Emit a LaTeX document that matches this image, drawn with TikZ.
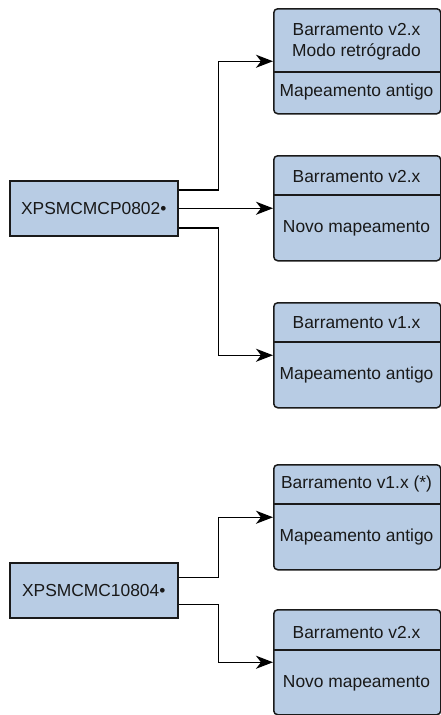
\documentclass[tikz,border=0pt]{standalone}
\usepackage{fontspec}
\setmainfont{Liberation Sans}
\usetikzlibrary{arrows.meta}
\definecolor{boxblue}{HTML}{B8CCE4}
\definecolor{edge}{HTML}{1A1A1A}
\begin{document}
\begin{tikzpicture}[x=1pt,y=-1pt,
  rbox/.style={draw=edge, fill=boxblue, line width=1.5pt, rounded corners=4pt,
    minimum width=167pt, minimum height=105pt, inner sep=0pt, anchor=north west},
  lbox/.style={draw=edge, fill=boxblue, line width=1.5pt,
    minimum width=168pt, minimum height=55pt, inner sep=0pt, anchor=north west},
  div/.style={draw=edge, line width=1.5pt},
  txt/.style={font=\fontsize{17.4}{21}\selectfont, text=black!90, align=center, inner sep=0pt},
  arr/.style={draw=black, line width=1.5pt, -{Stealth[length=17pt,width=13pt,inset=5pt]}}
]
\useasboundingbox (0,0) rectangle (441,715);

% right boxes
\node[rbox] (A) at (273,8) {};
\node[rbox] (B) at (273,155) {};
\node[rbox] (C) at (273,302) {};
\node[rbox] (D) at (273,464) {};
\node[rbox] (E) at (273,609) {};

% dividers
\coordinate (dA) at (273,72);
\coordinate (dB) at (273,195);
\coordinate (dC) at (273,342);
\coordinate (dD) at (273,504);
\coordinate (dE) at (273,650);
\draw[div] (dA) -- (dA -| A.east);
\draw[div] (dB) -- (dB -| B.east);
\draw[div] (dC) -- (dC -| C.east);
\draw[div] (dD) -- (dD -| D.east);
\draw[div] (dE) -- (dE -| E.east);

% texts
\node[txt] (At) at (356.5,41.5) {Barramento v2.x\\Modo retrógrado};
\node[txt] (Ab) at (356.5,92) {Mapeamento antigo};
\node[txt] (Bt) at (356.5,176.5) {Barramento v2.x};
\node[txt] (Bb) at (356.5,228) {Novo mapeamento};
\node[txt] (Ct) at (356.5,322.5) {Barramento v1.x};
\node[txt] (Cb) at (356.5,375) {Mapeamento antigo};
\node[txt] (Dt) at (356.5,484) {Barramento v1.x (*)};
\node[txt] (Db) at (356.5,537) {Mapeamento antigo};
\node[txt] (Et) at (356.5,632.5) {Barramento v2.x};
\node[txt] (Eb) at (356.5,683) {Novo mapeamento};

% left boxes
\node[lbox] (L1) at (9,180) {};
\node[txt] (L1t) at (L1.center) {XPSMCMCP0802•};
\node[lbox] (L2) at (9,562) {};
\node[txt] (L2t) at (L2.center) {XPSMCMC10804•};

% connectors
\draw[arr] ([yshift=18.5pt]L1.east) -- ++(40,0) |- (A.west);
\draw[arr] (L1.east) -- (B.west);
\draw[arr] ([yshift=-19.5pt]L1.east) -- ++(40,0) |- (C.west);
\draw[arr] ([yshift=13pt]L2.east) -- ++(40,0) |- (D.west);
\draw[arr] ([yshift=-14pt]L2.east) -- ++(40,0) |- (E.west);
\end{tikzpicture}
\end{document}
